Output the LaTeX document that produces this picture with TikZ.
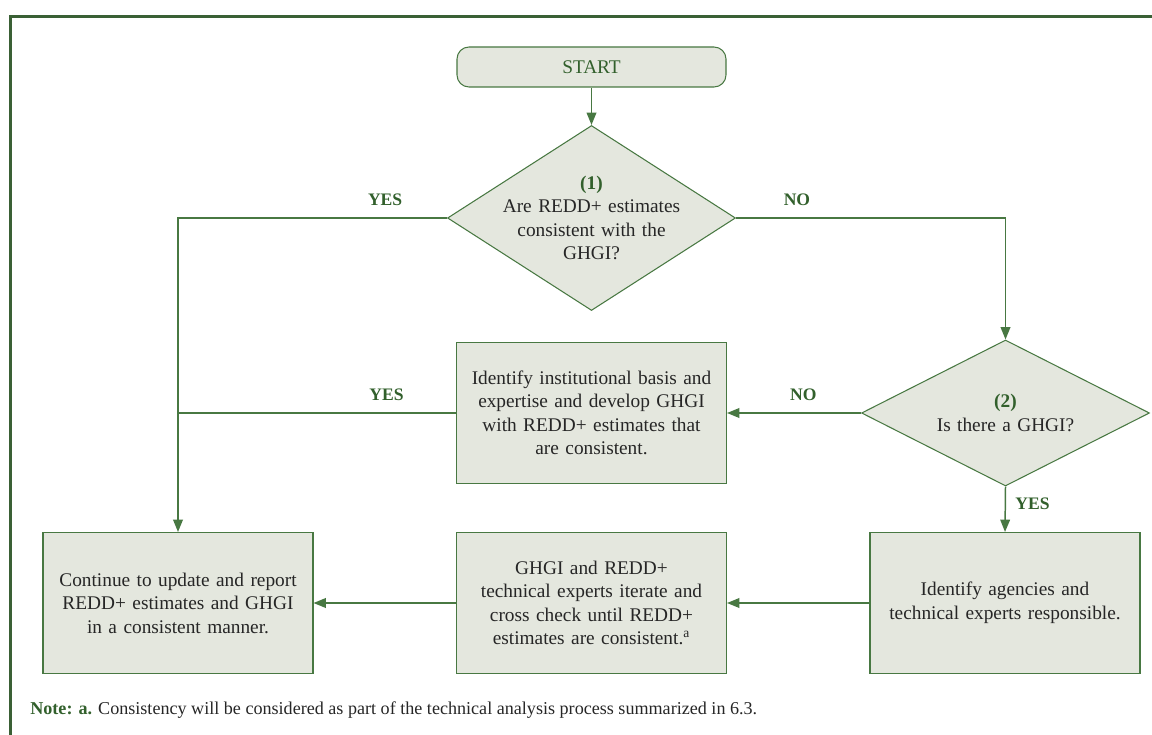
\documentclass[tikz,border=0pt]{standalone}
\usepackage{fontspec}
\setmainfont{Liberation Serif}
\usetikzlibrary{shapes.geometric, arrows.meta}

\definecolor{lineGreen}{RGB}{72,120,66}
\definecolor{labelGreen}{RGB}{50,96,44}
\definecolor{boxFill}{RGB}{228,231,222}
\definecolor{textGrey}{RGB}{38,38,38}

\tikzstyle{terminal} = [rectangle, rounded corners=0.24cm, minimum width=5.38cm, minimum height=0.8cm, draw=lineGreen,
line width=0.6pt, fill=boxFill, text=labelGreen, font=\fontsize{11}{13.4}\selectfont]
\tikzstyle{process} = [rectangle, text width=5cm, align=center, minimum width=5.4cm, minimum height=2.82cm, draw=lineGreen,
line width=0.6pt, fill=boxFill, text=textGrey, font=\fontsize{11}{13.4}\selectfont]
\tikzstyle{decision} = [diamond, text width=4.2cm, align=center, minimum width=5.76cm, draw=lineGreen, line width=0.6pt,
fill=boxFill, text=textGrey, inner sep=-20pt, font=\fontsize{11}{13.4}\selectfont]
\tikzstyle{answer} = [text=labelGreen, font=\fontsize{10}{12}\selectfont\bfseries]
\tikzstyle{connector} = [draw=lineGreen, line width=0.85pt]

\begin{document}
\begin{tikzpicture}[node distance=1cm, >={Triangle[length=7pt, width=5.5pt]}]
    \useasboundingbox (0,0) rectangle (23.04,-14.7);
    \draw[draw=lineGreen!80!black, line width=1.25pt] (0.21,-14.7) |- (23.04,-0.33);

    \node(startNode)[terminal] at (11.83,-1.34) {START};
    \node(consistent)[decision, minimum height=3.7cm, below of=startNode, yshift=-2.02cm]
        {\textcolor{labelGreen}{\textbf{(1)}}\\Are REDD+ estimates\\consistent with the\\GHGI?};
    \node(existsGhgi)[decision, minimum height=2.92cm, right of=consistent, xshift=7.28cm, yshift=-3.9cm]
        {\textcolor{labelGreen}{\textbf{(2)}}\\Is there a GHGI?};
    \node(developGhgi)[process, below of=consistent, yshift=-2.9cm]
        {Identify institutional basis and\\expertise and develop GHGI\\with REDD+ estimates that\\are consistent.};
    \node(iterate)[process, below of=developGhgi, yshift=-2.8cm]
        {GHGI and REDD+\\technical experts iterate and\\cross check until REDD+\\estimates are consistent.\textsuperscript{a}};
    \node(identifyAgencies)[process, right of=iterate, xshift=7.27cm]
        {Identify agencies and\\technical experts responsible.};
    \node(continueReport)[process, left of=iterate, xshift=-7.27cm]
        {Continue to update and report\\REDD+ estimates and GHGI\\in a consistent manner.};
    \coordinate(yesJoin) at (continueReport.north |- developGhgi.west);

    \node(note)[anchor=west, inner sep=0pt, text=textGrey, font=\fontsize{10.3}{12}\selectfont] at (0.6,-14.2)
        {\textcolor{labelGreen}{\textbf{Note: a.}} Consistency will be considered as part of the technical analysis process summarized in 6.3.};

    \draw[connector, ->] (startNode) -- (consistent);
    \draw[connector, ->] (consistent.west) -| node[answer, pos=0.115, anchor=south, yshift=3pt]{YES} (continueReport.north);
    \draw[connector, ->] (consistent.east) -| node[answer, pos=0.113, anchor=south, yshift=3pt]{NO} (existsGhgi.north);
    \draw[connector, ->] (existsGhgi.west) -- node[answer, pos=0.43, anchor=south, yshift=3pt]{NO} (developGhgi.east);
    \draw[connector] (developGhgi.west) -- node[answer, pos=0.25, anchor=south, yshift=3pt]{YES} (yesJoin);
    \draw[connector, ->] (existsGhgi.south) -- node[answer, anchor=west, xshift=2pt, yshift=3pt]{YES} (identifyAgencies.north);
    \draw[connector, ->] (identifyAgencies.west) -- (iterate.east);
    \draw[connector, ->] (iterate.west) -- (continueReport.east);
\end{tikzpicture}
\end{document}
